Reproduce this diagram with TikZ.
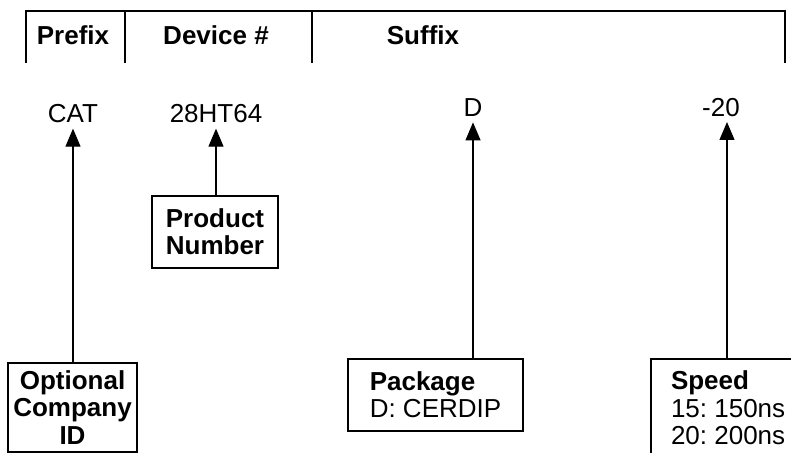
\documentclass[tikz,border=0pt]{standalone}
\usepackage{fontspec}
\setmainfont{Liberation Sans}
\usetikzlibrary{arrows.meta, positioning}
\frenchspacing

\begin{document}
\begin{tikzpicture}[x=0.5pt, y=-0.5pt,
    font=\fontsize{13}{13.7}\selectfont,
    hdr/.style={font=\fontsize{13}{13.7}\selectfont\bfseries, anchor=base, inner sep=0},
    code/.style={anchor=base, inner sep=0},
    tagbox/.style={draw, line width=1pt, inner sep=0, font=\fontsize{13}{13.7}\selectfont\bfseries},
    arr/.style={-{Triangle[length=9pt, width=7.5pt]}, line width=0.6pt, shorten >=2.5pt}]
    \clip (0,0) rectangle (791,453);  % Fixes the picture to the page size
    % Header frame
    \draw [line width=0.6pt] (26,63) |- (785,11) -- (785,63);  % Outer frame of the header
    \draw [line width=0.6pt] (125,11) -- (125,63);  % Divider after prefix
    \draw [line width=0.6pt] (312,11) -- (312,63);  % Divider after device number
    \node (prefix) [hdr] at (73,45) {Prefix};  % Header label for prefix
    \node (device) [hdr] at (216,45) {Device \#};  % Header label for device number
    \node (suffix) [hdr] at (423,45) {Suffix};  % Header label for suffix

    % Nodes
    \node (cat) [code] at (73,123) {CAT};  % Prefix code
    \node (devnum) [code] at (216,123) {28HT64};  % Device code
    \node (pkgcode) [code] at (473,117) {D};  % Package code
    \node (speedcode) [code] at (721,117) {-20};  % Speed code
    \coordinate (speedtip) at (727,117);  % Arrow end under the speed code

    \node (company) [tagbox, align=center, minimum width=64.5pt, minimum height=44.5pt] at (72.5,407.5) {Optional\\Company\\ID};  % Company box
    \node (product) [tagbox, align=center, minimum width=63pt, minimum height=36pt] at (215,232) {Product\\Number};  % Product box
    \node (package) [tagbox, align=left, minimum width=87.5pt, minimum height=36pt] at (435.5,395) {Package\\\mdseries D: CERDIP};  % Package box
    \node (speed) [tagbox, align=left, anchor=north west, inner xsep=10pt, inner ysep=6pt] at (650,358) {Speed\\\mdseries 15: 150ns\\\mdseries 20: 200ns};  % Speed box

    % Arrows
    \draw [arr] (cat.south |- company.north) -- (cat.south);  % Company box to prefix
    \draw [arr] (devnum.south |- product.north) -- (devnum.south);  % Product box to device code
    \draw [arr] (pkgcode.south |- package.north) -- (pkgcode.south);  % Package box to package code
    \draw [arr] (speedtip |- speed.north) -- (speedtip);  % Speed box to speed code
\end{tikzpicture}
\end{document}
